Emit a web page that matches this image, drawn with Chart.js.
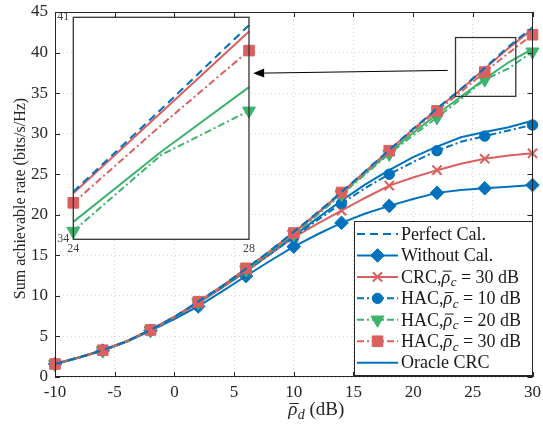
<!DOCTYPE html>
<html>
<head>
<meta charset="utf-8">
<script src="https://cdn.jsdelivr.net/npm/chart.js@4/dist/chart.umd.min.js"></script>
<style>
  html, body { margin: 0; padding: 0; background: #fff; }
  #wrap { position: relative; width: 543px; height: 424px; }
  #main { position: absolute; left: 0; top: 0; }
  #inset { position: absolute; left: 40px; top: 5px; }
</style>
</head>
<body>
<div id="wrap">
  <canvas id="main" width="543" height="424"></canvas>
  <canvas id="inset" width="220" height="255"></canvas>
</div>
<script>
// ---------------- data ----------------
const snr = [-10, -8, -6, -4, -2, 0, 2, 4, 6, 8, 10, 12, 14, 16, 18, 20, 22, 24, 26, 28, 30];
const perfectCal = [1.6, 2.4, 3.3, 4.4, 5.8, 7.4, 9.3, 11.2, 13.35, 15.55, 17.9, 20.3, 22.8, 25.4, 28.0, 30.6, 33.1, 35.5, 38.1, 40.75, 43.1];
const withoutCal = [1.6, 2.4, 3.25, 4.35, 5.7, 7.15, 8.7, 10.55, 12.45, 14.3, 16.07, 17.6, 19.0, 20.15, 21.1, 21.95, 22.7, 23.05, 23.27, 23.45, 23.67];
const crc30 = [1.6, 2.4, 3.3, 4.4, 5.8, 7.35, 9.1, 11.0, 13.0, 15.1, 17.2, 18.9, 20.5, 22.1, 23.6, 24.6, 25.5, 26.3, 26.9, 27.3, 27.58];
const hac10 = [1.6, 2.4, 3.3, 4.4, 5.8, 7.35, 9.15, 11.05, 13.05, 15.15, 17.26, 19.35, 21.4, 23.3, 25.0, 26.5, 27.9, 29.0, 29.7, 30.4, 31.07];
const hac20 = [1.55, 2.35, 3.25, 4.35, 5.75, 7.35, 9.2, 11.15, 13.2, 15.35, 17.6, 20.0, 22.5, 25.0, 27.5, 29.8, 32.0, 34.26, 36.66, 38.05, 40.1];
const hac30 = [1.6, 2.4, 3.3, 4.4, 5.8, 7.4, 9.28, 11.2, 13.4, 15.5, 17.75, 20.2, 22.75, 25.3, 27.9, 30.4, 32.8, 35.15, 37.6, 39.95, 42.2];
const oracle10 = [1.6, 2.4, 3.3, 4.4, 5.8, 7.4, 9.2, 11.15, 13.15, 15.25, 17.4, 19.6, 21.75, 23.75, 25.5, 27.1, 28.4, 29.56, 30.2, 30.8, 31.6];
const oracle20 = [1.6, 2.4, 3.3, 4.4, 5.8, 7.4, 9.25, 11.2, 13.3, 15.45, 17.75, 20.15, 22.65, 25.15, 27.65, 30.1, 32.4, 34.55, 36.76, 38.8, 40.45];
const oracle30 = [1.6, 2.4, 3.3, 4.4, 5.8, 7.4, 9.3, 11.2, 13.35, 15.5, 17.85, 20.25, 22.75, 25.35, 27.95, 30.55, 33.0, 35.45, 38.0, 40.55, 42.9];

const xTicks = [-10, -5, 0, 5, 10, 15, 20, 25, 30];
const yTicks = [0, 5, 10, 15, 20, 25, 30, 35, 40, 45];
const insetXTicks = [24, 28];
const insetYTicks = [34, 41];

const legendText = ['Perfect Cal.', 'Without Cal.', 'CRC,ρ̄_c = 30 dB', 'HAC,ρ̄_c = 10 dB', 'HAC,ρ̄_c = 20 dB', 'HAC,ρ̄_c = 30 dB', 'Oracle CRC'];
const yTitle = 'Sum achievable rate (bits/s/Hz)';
const xTitle = 'ρ̄_d (dB)';

// zoom-box and arrow annotation (data coordinates)
const zoomBoxX = [23.55, 28.6];
const zoomBoxY = [34.6, 41.85];
const arrowFromX = 22.9, arrowFromY = 37.8;
const arrowToX = 6.6, arrowToY = 37.45;

// ---------------- styles ----------------
const BLUE = '#0072BD', RED = '#D9605E', GREEN = '#3DB36E';
const SERIF = '"Liberation Serif", "Times New Roman", serif';
const DASH = [8, 5];
const DASHDOT = [7, 3, 2, 3];

function pts(arr, lo, hi) {
  return snr.map((x, i) => ({ x: x, y: arr[i] })).filter(p => p.x >= lo && p.x <= hi);
}
function markerEvery(r) { return ctx => (ctx.dataIndex % 2 === 0 ? r : 0); }

const seriesDefs = [
  { id: 'perfect', data: perfectCal, color: BLUE, dash: DASH, style: false },
  { id: 'hac30', data: hac30, color: RED, dash: DASHDOT, style: 'rect', r: 7.5, rot: 0, bw: 1 },
  { id: 'hac20', data: hac20, color: GREEN, dash: DASHDOT, style: 'triangle', r: 7.5, rot: 180, bw: 1 },
  { id: 'hac10', data: hac10, color: BLUE, dash: DASHDOT, style: 'circle', r: 5.2, rot: 0, bw: 1 },
  { id: 'crc30', data: crc30, color: RED, dash: [], style: 'crossRot', r: 6.5, rot: 0, bw: 2 },
  { id: 'without', data: withoutCal, color: BLUE, dash: [], style: 'rectRot', r: 6.8, rot: 0, bw: 1 },
  { id: 'oracle30', data: oracle30, color: RED, dash: [], style: false },
  { id: 'oracle20', data: oracle20, color: GREEN, dash: [], style: false },
  { id: 'oracle10', data: oracle10, color: BLUE, dash: [], style: false }
];
const legendOrder = ['perfect', 'without', 'crc30', 'hac10', 'hac20', 'hac30', 'oracle10'];

function makeDatasets(lo, hi, ids) {
  return seriesDefs.filter(s => !ids || ids.includes(s.id)).map(s => ({
    label: s.id,
    data: pts(s.data, lo, hi),
    borderColor: s.color,
    backgroundColor: s.color,
    borderWidth: 2,
    borderDash: s.dash,
    tension: 0,
    pointStyle: s.style || 'circle',
    pointRadius: s.style ? markerEvery(s.r) : 0,
    pointRotation: s.rot || 0,
    pointBorderColor: s.color,
    pointBackgroundColor: s.color,
    pointBorderWidth: s.bw || 1,
    pointHoverRadius: 0,
    clip: false,
    _def: s
  }));
}

// draw text; "ρ̄_x" rendered as italic rho with a bar and italic subscript
function drawRich(ctx, text, x, y, size, align) {
  const parts = text.split(/(ρ̄_[a-z])/).filter(p => p.length);
  const segs = [];
  parts.forEach(p => {
    if (/^ρ̄_[a-z]$/.test(p)) {
      segs.push({ t: 'ρ', font: 'italic ' + size + 'px ' + SERIF, dy: 0, bar: true });
      segs.push({ t: p.slice(3), font: 'italic ' + Math.round(size * 0.72) + 'px ' + SERIF, dy: size * 0.27 });
    } else {
      segs.push({ t: p, font: size + 'px ' + SERIF, dy: 0 });
    }
  });
  ctx.textAlign = 'left';
  ctx.textBaseline = 'middle';
  let total = 0;
  segs.forEach(s => { ctx.font = s.font; s.m = ctx.measureText(s.t); s.w = s.m.width; total += s.w; });
  let cx = align === 'center' ? x - total / 2 : x;
  segs.forEach(s => {
    ctx.font = s.font;
    ctx.fillText(s.t, cx, y + s.dy);
    if (s.bar) {
      const top = y - s.m.actualBoundingBoxAscent - 2.5;
      ctx.save();
      ctx.strokeStyle = ctx.fillStyle;
      ctx.lineWidth = 1;
      ctx.beginPath();
      ctx.moveTo(cx + s.w * 0.15, top);
      ctx.lineTo(cx + s.w + 1.5, top);
      ctx.stroke();
      ctx.restore();
    }
    cx += s.w + (s.bar ? 0.5 : 0);
  });
}

const mainDecor = {
  id: 'mainDecor',
  afterDatasetsDraw(chart) {
    const ctx = chart.ctx, a = chart.chartArea, xs = chart.scales.x, ys = chart.scales.y;
    ctx.save();
    // axes box
    ctx.strokeStyle = '#262626';
    ctx.lineWidth = 1;
    ctx.strokeRect(Math.round(a.left) + 0.5, Math.round(a.top) + 0.5, Math.round(a.right - a.left) - 1, Math.round(a.bottom - a.top) - 1);
    // inside ticks
    ctx.beginPath();
    const tl = 5;
    xTicks.forEach(v => {
      const px = Math.round(xs.getPixelForValue(v)) + 0.5;
      ctx.moveTo(px, a.bottom); ctx.lineTo(px, a.bottom - tl);
      ctx.moveTo(px, a.top); ctx.lineTo(px, a.top + tl);
    });
    yTicks.forEach(v => {
      const py = Math.round(ys.getPixelForValue(v)) + 0.5;
      ctx.moveTo(a.left, py); ctx.lineTo(a.left + tl, py);
      ctx.moveTo(a.right, py); ctx.lineTo(a.right - tl, py);
    });
    ctx.stroke();
    // zoom box
    const bx0 = xs.getPixelForValue(zoomBoxX[0]), bx1 = xs.getPixelForValue(zoomBoxX[1]);
    const by0 = ys.getPixelForValue(zoomBoxY[1]), by1 = ys.getPixelForValue(zoomBoxY[0]);
    ctx.strokeStyle = '#333';
    ctx.lineWidth = 1.3;
    ctx.strokeRect(bx0, by0, bx1 - bx0, by1 - by0);
    // arrow
    const ax0 = xs.getPixelForValue(arrowFromX), ay0 = ys.getPixelForValue(arrowFromY);
    const ax1 = xs.getPixelForValue(arrowToX), ay1 = ys.getPixelForValue(arrowToY);
    const ang = Math.atan2(ay1 - ay0, ax1 - ax0);
    const hl = 11, hw = 4.5;
    const bxh = ax1 - hl * Math.cos(ang), byh = ay1 - hl * Math.sin(ang);
    ctx.strokeStyle = '#000';
    ctx.lineWidth = 1;
    ctx.beginPath(); ctx.moveTo(ax0, ay0); ctx.lineTo(bxh, byh); ctx.stroke();
    ctx.fillStyle = '#000';
    ctx.beginPath();
    ctx.moveTo(ax1, ay1);
    ctx.lineTo(bxh - hw * Math.sin(ang), byh + hw * Math.cos(ang));
    ctx.lineTo(bxh + hw * Math.sin(ang), byh - hw * Math.cos(ang));
    ctx.closePath(); ctx.fill();
    // axis titles
    ctx.fillStyle = '#262626';
    ctx.save();
    ctx.translate(21, (a.top + a.bottom) / 2 + 4);
    ctx.rotate(-Math.PI / 2);
    ctx.font = '16px ' + SERIF;
    ctx.textAlign = 'center';
    ctx.textBaseline = 'middle';
    ctx.fillText(yTitle, 0, 0);
    ctx.restore();
    drawRich(ctx, xTitle, 316, 410, 19, 'center');
    ctx.restore();
  },
  afterDraw(chart) {
    const ctx = chart.ctx, a = chart.chartArea;
    const w = 178, h = 154;
    const x0 = Math.round(a.right - 1 - w), y0 = Math.round(a.bottom - 2 - h);
    ctx.save();
    ctx.fillStyle = '#fff';
    ctx.fillRect(x0, y0, w, h);
    ctx.strokeStyle = '#262626';
    ctx.lineWidth = 1;
    ctx.strokeRect(x0 + 0.5, y0 + 0.5, w, h);
    legendOrder.forEach((id, i) => {
      const ds = chart.data.datasets.find(d => d.label === id);
      const s = ds._def;
      const cy = y0 + 13 + i * 21.45;
      ctx.strokeStyle = s.color;
      ctx.lineWidth = 2;
      ctx.setLineDash(s.dash);
      ctx.beginPath(); ctx.moveTo(x0 + 3, cy); ctx.lineTo(x0 + 44, cy); ctx.stroke();
      ctx.setLineDash([]);
      if (s.style) {
        ctx.fillStyle = s.color;
        ctx.strokeStyle = s.color;
        ctx.lineWidth = s.bw;
        Chart.helpers.drawPoint(ctx, { pointStyle: s.style, rotation: s.rot, radius: s.r, borderWidth: s.bw }, x0 + 23.5, cy);
      }
      ctx.fillStyle = '#1a1a1a';
      drawRich(ctx, legendText[i], x0 + 47, cy + 1, 18, 'left');
    });
    ctx.restore();
  }
};

new Chart(document.getElementById('main'), {
  type: 'line',
  data: { datasets: makeDatasets(-10, 30) },
  options: {
    responsive: false,
    animation: false,
    events: [],
    layout: { padding: { left: 0, right: 10.5, top: 12, bottom: 0 } },
    plugins: { legend: { display: false }, tooltip: { enabled: false } },
    scales: {
      x: {
        type: 'linear', min: -10, max: 30,
        afterBuildTicks: s => { s.ticks = xTicks.map(v => ({ value: v })); },
        afterFit: s => { s.height = 47; s.paddingLeft = 0; s.paddingRight = 0; },
        ticks: { font: { family: SERIF, size: 17 }, color: '#262626', padding: 5, maxRotation: 0, autoSkip: false },
        grid: { color: '#d4d4d4', lineWidth: 1, drawTicks: false },
        border: { display: false, dash: [1, 3] }
      },
      y: {
        type: 'linear', min: 0, max: 45,
        afterBuildTicks: s => { s.ticks = yTicks.map(v => ({ value: v })); },
        afterFit: s => { s.width = 55; s.paddingTop = 0; s.paddingBottom = 0; },
        ticks: { font: { family: SERIF, size: 17 }, color: '#262626', padding: 7, autoSkip: false },
        grid: { color: '#d4d4d4', lineWidth: 1, drawTicks: false },
        border: { display: false, dash: [1, 3] }
      }
    }
  },
  plugins: [mainDecor]
});

const insetDecor = {
  id: 'insetDecor',
  beforeDraw(chart) {
    const ctx = chart.ctx, a = chart.chartArea;
    ctx.save();
    ctx.fillStyle = '#fff';
    ctx.fillRect(a.left, a.top, a.right - a.left, a.bottom - a.top);
    ctx.restore();
  },
  afterDraw(chart) {
    const ctx = chart.ctx, a = chart.chartArea;
    ctx.save();
    ctx.strokeStyle = '#333';
    ctx.lineWidth = 1.3;
    ctx.strokeRect(a.left, a.top, a.right - a.left, a.bottom - a.top);
    ctx.restore();
  }
};

new Chart(document.getElementById('inset'), {
  type: 'line',
  data: { datasets: makeDatasets(24, 28, ['perfect', 'hac30', 'hac20', 'oracle30', 'oracle20']) },
  options: {
    responsive: false,
    animation: false,
    events: [],
    layout: { padding: { left: 0, right: 11, top: 12.3, bottom: 0 } },
    plugins: { legend: { display: false }, tooltip: { enabled: false } },
    scales: {
      x: {
        type: 'linear', min: 24, max: 28,
        afterBuildTicks: s => { s.ticks = insetXTicks.map(v => ({ value: v })); },
        afterFit: s => { s.height = 20.7; s.paddingLeft = 0; s.paddingRight = 0; },
        ticks: { font: { family: SERIF, size: 12 }, color: '#444', padding: 2, maxRotation: 0, autoSkip: false },
        grid: { display: false, drawTicks: false },
        border: { display: false }
      },
      y: {
        type: 'linear', min: 34, max: 41,
        afterBuildTicks: s => { s.ticks = insetYTicks.map(v => ({ value: v })); },
        afterFit: s => { s.width = 33.3; s.paddingTop = 0; s.paddingBottom = 0; },
        ticks: { font: { family: SERIF, size: 12 }, color: '#444', padding: 4, autoSkip: false },
        grid: { display: false, drawTicks: false },
        border: { display: false }
      }
    }
  },
  plugins: [insetDecor]
});
</script>
</body>
</html>
